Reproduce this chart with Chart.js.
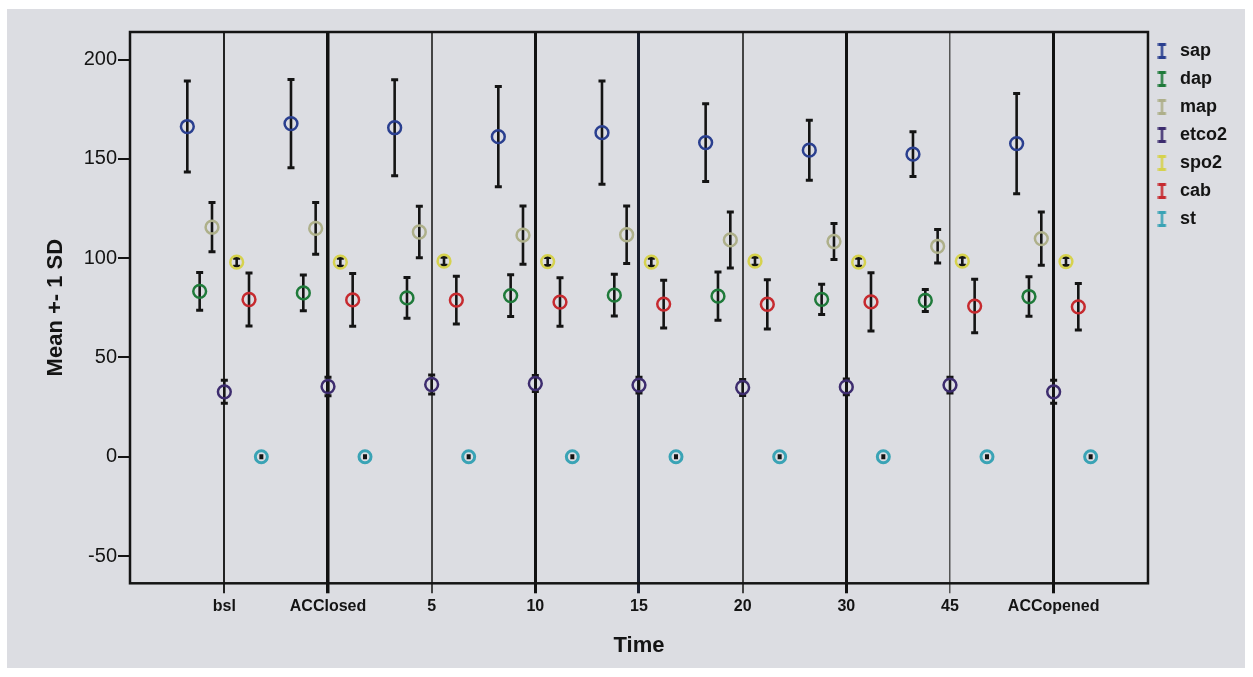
<!DOCTYPE html>
<html>
<head>
<meta charset="utf-8">
<title>Mean +- 1 SD by Time</title>
<script src="https://cdn.jsdelivr.net/npm/chart.js@4.4.1/dist/chart.umd.min.js"></script>
<style>
  html, body { margin: 0; padding: 0; background: #fff; }
  #panel { position: absolute; left: 7px; top: 9px; width: 1238px; height: 659px; background: #dcdde2; }
  canvas { display: block; }
</style>
</head>
<body>
<div id="panel"><canvas id="chart" width="1238" height="659"></canvas></div>
<script>
// --- data ---
const timeLabels = ['bsl', 'ACClosed', '5', '10', '15', '20', '30', '45', 'ACCopened'];
const yTickValues = [-50, 0, 50, 100, 150, 200];
const seriesNames = ['sap', 'dap', 'map', 'etco2', 'spo2', 'cab', 'st'];

// means
const sapMean   = [166.3, 167.8, 165.7, 161.2, 163.2, 158.2, 154.4, 152.4, 157.7];
const dapMean   = [83.3, 82.5, 80.0, 81.2, 81.4, 80.9, 79.3, 78.7, 80.7];
const mapMean   = [115.6, 115.0, 113.2, 111.6, 111.8, 109.2, 108.4, 106.0, 109.9];
const etco2Mean = [32.7, 35.4, 36.4, 36.9, 36.1, 34.9, 35.2, 36.1, 32.7];
const spo2Mean  = [98.0, 98.0, 98.5, 98.3, 98.0, 98.5, 98.0, 98.5, 98.3];
const cabMean   = [79.2, 79.0, 78.9, 77.9, 76.9, 76.8, 78.0, 75.9, 75.5];
const stMean    = [0, 0, 0, 0, 0, 0, 0, 0, 0];

// standard deviations (error bars = mean +- 1 SD)
const sapSD   = [22.9, 22.2, 24.2, 25.2, 26.0, 19.6, 15.1, 11.3, 25.2];
const dapSD   = [9.5, 9.0, 10.3, 10.5, 10.5, 12.2, 7.6, 5.6, 9.9];
const mapSD   = [12.4, 13.0, 13.0, 14.7, 14.5, 14.1, 9.1, 8.4, 13.4];
const etco2SD = [5.8, 4.6, 4.8, 4.0, 4.0, 4.0, 4.0, 4.0, 5.8];
const spo2SD  = [2.0, 2.0, 2.0, 2.0, 2.0, 2.0, 2.0, 2.0, 2.0];
const cabSD   = [13.4, 13.3, 12.0, 12.2, 12.0, 12.4, 14.7, 13.5, 11.7];
const stSD    = [0.5, 0.5, 0.5, 0.5, 0.5, 0.5, 0.5, 0.5, 0.5];

// --- styling ---
const seriesColors = ['#2a3f8f', '#1f7a3a', '#aeb08a', '#3d2c6e', '#d6d24e', '#c62a2f', '#3aa3b5'];
const clusterStep = 0.119;           // horizontal offset between series in one time group
const dividerWidths = [2, 3.5, 2, 3, 3, 2, 3, 1.5, 3];
const dividerColors = ['#222', '#111', '#444', '#111', '#1a1f2e', '#444', '#111', '#555', '#111'];
const FONT = "'Liberation Sans', Arial, sans-serif";
const INK = '#141414';

const means = [sapMean, dapMean, mapMean, etco2Mean, spo2Mean, cabMean, stMean];
const sds = [sapSD, dapSD, mapSD, etco2SD, spo2SD, cabSD, stSD];

// little "I" glyphs used as legend symbols
function barIcon(color) {
  const c = document.createElement('canvas');
  c.width = 14; c.height = 18;
  const g = c.getContext('2d');
  g.fillStyle = color;
  g.fillRect(0.5, 1, 8, 3);
  g.fillRect(0.5, 14, 8, 3);
  g.fillRect(3.3, 1, 2.4, 16);
  return c;
}
const legendIcons = seriesColors.map(barIcon);

// error bars drawn beneath the circle markers
const errorBars = {
  id: 'errorBars',
  beforeDatasetsDraw(chart) {
    const {ctx} = chart;
    const y = chart.scales.y;
    ctx.save();
    ctx.strokeStyle = INK;
    chart.data.datasets.forEach((ds, k) => {
      const meta = chart.getDatasetMeta(k);
      meta.data.forEach((pt, i) => {
        const d = ds.data[i];
        const top = y.getPixelForValue(d.y + d.sd);
        const bot = y.getPixelForValue(d.y - d.sd);
        // very short bars collapse into a small dot, as in the original
        const half = (bot - top) < 4 ? 2 : 3.5;
        ctx.lineWidth = 2.6;
        ctx.beginPath();
        ctx.moveTo(pt.x, top);
        ctx.lineTo(pt.x, bot);
        ctx.stroke();
        ctx.lineWidth = 3;
        ctx.beginPath();
        ctx.moveTo(pt.x - half, top);
        ctx.lineTo(pt.x + half, top);
        ctx.moveTo(pt.x - half, bot);
        ctx.lineTo(pt.x + half, bot);
        ctx.stroke();
      });
    });
    ctx.restore();
  }
};

// closed frame round the plot area
const frame = {
  id: 'frame',
  afterDraw(chart) {
    const {ctx, chartArea: a} = chart;
    ctx.save();
    ctx.strokeStyle = INK;
    ctx.lineWidth = 2.5;
    ctx.strokeRect(a.left, a.top, a.right - a.left, a.bottom - a.top);
    ctx.restore();
  }
};

const datasets = seriesNames.map((name, k) => ({
  label: name,
  data: means[k].map((m, i) => ({x: i + (k - 3) * clusterStep, y: m, sd: sds[k][i]})),
  borderColor: seriesColors[k],
  backgroundColor: 'transparent',
  pointRadius: k === 6 ? 6 : 6.4,
  pointBorderWidth: k === 6 ? 3 : 2.5,
  pointStyle: 'circle',
  showLine: false
}));

new Chart(document.getElementById('chart'), {
  type: 'scatter',
  data: {datasets},
  plugins: [errorBars, frame],
  options: {
    responsive: false,
    animation: false,
    events: [],
    layout: {padding: {left: 0, right: 8, top: 23, bottom: 0}},
    scales: {
      x: {
        type: 'linear',
        min: -0.91,
        max: 8.91,
        afterBuildTicks: axis => { axis.ticks = timeLabels.map((_, i) => ({value: i})); },
        afterFit: axis => { axis.height = 84.7; },
        border: {display: false},
        grid: {
          color: c => dividerColors[c.index] || INK,
          lineWidth: c => dividerWidths[c.index] || 2,
          drawTicks: true,
          tickLength: 10
        },
        ticks: {
          callback: v => timeLabels[v],
          autoSkip: false,
          maxRotation: 0,
          padding: 4,
          color: INK,
          font: {family: FONT, size: 16, weight: 'bold'}
        },
        title: {
          display: true,
          text: 'Time',
          color: INK,
          padding: {top: 0, bottom: 9},
          font: {family: FONT, size: 22, weight: 'bold'}
        }
      },
      y: {
        min: -63.7,
        max: 213.9,
        afterBuildTicks: axis => { axis.ticks = yTickValues.map(v => ({value: v})); },
        afterFit: axis => { axis.width = 123; },
        border: {display: false},
        grid: {
          drawOnChartArea: false,
          drawTicks: true,
          tickLength: 12,
          color: INK,
          lineWidth: 2
        },
        ticks: {
          padding: 1,
          color: INK,
          font: {family: FONT, size: 20}
        },
        title: {
          display: true,
          text: 'Mean +- 1 SD',
          color: INK,
          padding: {top: 36, bottom: 0},
          font: {family: FONT, size: 22, weight: 'bold'}
        }
      }
    },
    plugins: {
      tooltip: {enabled: false},
      legend: {
        position: 'right',
        align: 'start',
        labels: {
          usePointStyle: true,
          pointStyleWidth: 13,
          padding: 10,
          color: INK,
          font: {family: FONT, size: 18, weight: 'bold'},
          generateLabels: chart => chart.data.datasets.map((ds, i) => ({
            text: ds.label,
            pointStyle: legendIcons[i],
            fillStyle: ds.borderColor,
            strokeStyle: ds.borderColor,
            fontColor: INK,
            lineWidth: 0,
            hidden: false,
            datasetIndex: i
          }))
        }
      }
    }
  }
});
</script>
</body>
</html>
